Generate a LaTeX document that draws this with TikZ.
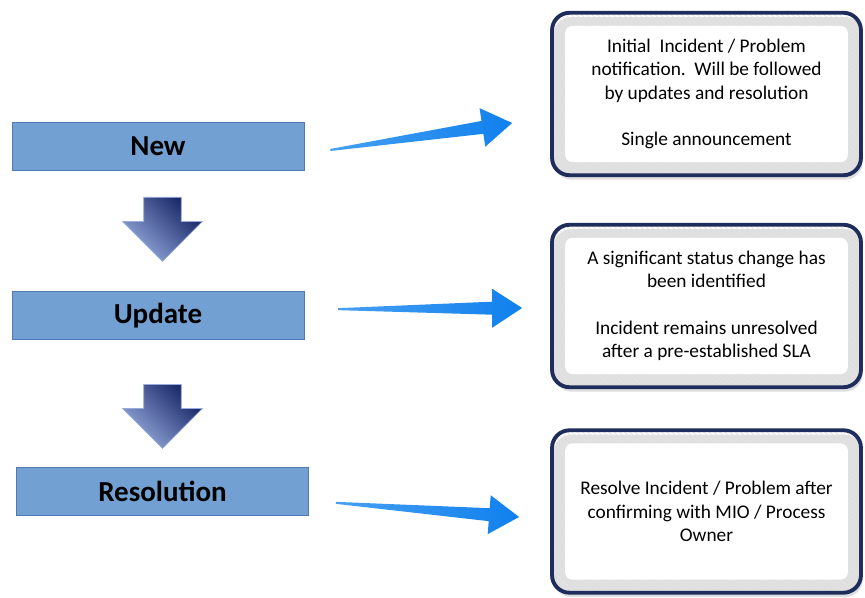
\documentclass[tikz,border=0pt]{standalone}
\usepackage{fontspec}
\setmainfont{Carlito}
\usepackage{tikz}
\usetikzlibrary{shapes.geometric, shapes.arrows, arrows}
\usetikzlibrary{positioning, calc, patterns, shadows}
\definecolor{stagefill}{RGB}{115,160,210}
\definecolor{stageedge}{RGB}{80,120,180}
\definecolor{notenavy}{RGB}{31,45,92}
\definecolor{wedgeblue}{RGB}{16,128,238}
\definecolor{wedgelite}{RGB}{70,160,242}
\definecolor{downdark}{RGB}{22,35,100}
\definecolor{downlite}{RGB}{150,172,222}
\tikzstyle{stage} = [rectangle, minimum width=5.84cm, minimum height=0.96cm, text centered, draw=stageedge, fill=stagefill, font=\fontsize{16.5}{19}\selectfont\bfseries]
\tikzstyle{note} = [rectangle, rounded corners=10pt, minimum width=6.18cm, minimum height=3.25cm, align=center, draw=notenavy, line width=2.2pt, pattern=north west lines, pattern color=gray!22, drop shadow={shadow xshift=1pt, shadow yshift=-2.5pt, opacity=0.25}, path picture={\fill[white, rounded corners=4pt] ([shift={(7.5pt,7.5pt)}]path picture bounding box.south west) rectangle ([shift={(-7.5pt,-7.5pt)}]path picture bounding box.north east);}, font=\fontsize{11}{13.3}\selectfont]
\tikzstyle{downarrow} = [single arrow, shape border rotate=270, minimum height=1.28cm, single arrow head extend=0.42cm, single arrow tip angle=90, inner sep=0.37cm, draw=downlite, thin, top color=downdark, bottom color=downlite, shading angle=-45]
\newcommand{\bluewedge}[2]{%
  \shade[left color=wedgelite, right color=wedgeblue] ($(#1)!0.02cm!90:(#2)$) -- ($(#2)!0.6cm!(#1)!0.13cm!90:(#2)$) -- ($(#2)!0.6cm!(#1)!0.39cm!90:(#2)$) -- (#2) -- ($(#2)!0.6cm!(#1)!0.39cm!-90:(#2)$) -- ($(#2)!0.6cm!(#1)!0.13cm!-90:(#2)$) -- ($(#1)!0.02cm!-90:(#2)$) -- cycle;}
\begin{document}
\begin{tikzpicture}[x=0.02cm, y=0.02cm]
\useasboundingbox (0,0) rectangle (865,598);
\node (new) [stage] at (158,452) {New};
\node (update) [stage, below=2.42cm of new] {Update};
\node (resolution) [stage, below=2.54cm of update, xshift=0.09cm] {Resolution};
\node (down1) [downarrow] at ([shift={(4.5,-49.5)}]new.south) {};
\node (down2) [downarrow] at ([shift={(4.5,-67)}]update.south) {};

\node (note1) [note] at (706.5,504) {Initial\ \ Incident / Problem\\notification.\ \ Will be followed\\by updates and resolution\\[13.3pt]Single announcement};
\node (note2) [note] at (706.5,292) {A significant status change has\\been identified\\[13.3pt]Incident remains unresolved\\after a pre-established SLA};
\node (note3) [note] at (706.5,86.5) {Resolve Incident / Problem after\\confirming with MIO / Process\\Owner};

\coordinate (tail1) at ([shift={(26,-4)}]new.east);
\coordinate (tip1) at ([shift={(-38,-29)}]note1.west);
\coordinate (tail2) at ([shift={(34,6.5)}]update.east);
\coordinate (tip2) at ([shift={(-28,-2)}]note2.west);
\coordinate (tail3) at ([shift={(27,-11.5)}]resolution.east);
\coordinate (tip3) at ([shift={(-31,-5.5)}]note3.west);
\bluewedge{tail1}{tip1}
\bluewedge{tail2}{tip2}
\bluewedge{tail3}{tip3}
\end{tikzpicture}
\end{document}
